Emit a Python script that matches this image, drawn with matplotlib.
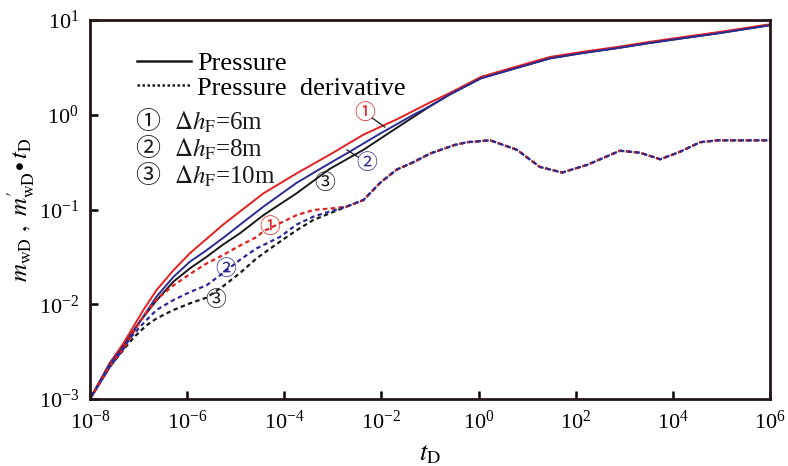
import numpy as np
import matplotlib
matplotlib.use("Agg")
import matplotlib.pyplot as plt
from matplotlib.lines import Line2D

plt.rcParams["font.family"] = ["Liberation Serif", "DejaVu Serif"]
plt.rcParams["mathtext.fontset"] = "stix"

# ---- data (log10 values) ----
# pressure, case 1 (dh=6m)
p1_logt = [-8, -7.59, -7.31, -7.11, -6.90, -6.63, -6.28, -5.94, -5.60, -5.26, -4.91,
           -4.43, -3.75, -3.06, -2.37, -1.69, -1.0, -0.59, 0.05, 0.79, 1.47, 2.15,
           2.85, 3.53, 4.21, 4.91, 6.0]
p1_logy = [-3, -2.62, -2.41, -2.24, -2.06, -1.85, -1.64, -1.46, -1.31, -1.16, -1.02,
           -0.83, -0.62, -0.42, -0.21, -0.05, 0.13, 0.23, 0.40, 0.51, 0.61, 0.665,
           0.715, 0.77, 0.82, 0.87, 0.955]
# pressure, case 2 (dh=8m)
p2_logt = [-8, -7.59, -7.31, -6.97, -6.63, -6.28, -5.94, -5.60, -5.26, -4.91, -4.43,
           -3.75, -3.06, -2.72, -2.03, -1.34, -1.0, -0.59, 0.05, 0.79, 1.47, 2.15,
           2.85, 3.53, 4.21, 4.91, 6.0]
p2_logy = [-3, -2.63, -2.45, -2.18, -1.92, -1.71, -1.55, -1.43, -1.30, -1.16, -0.97,
           -0.72, -0.51, -0.41, -0.20, 0.0, 0.09, 0.215, 0.385, 0.495, 0.595, 0.652,
           0.703, 0.758, 0.808, 0.858, 0.945]
# pressure, case 3 (dh=10m)
p3_logt = [-8, -7.59, -7.31, -6.97, -6.63, -6.28, -5.94, -5.60, -5.26, -4.91, -4.43,
           -3.75, -3.06, -2.37, -1.69, -1.0, -0.59, 0.05, 0.79, 1.47, 2.15,
           2.85, 3.53, 4.21, 4.91, 6.0]
p3_logy = [-3, -2.62, -2.43, -2.18, -1.96, -1.76, -1.62, -1.50, -1.37, -1.25, -1.06,
           -0.83, -0.57, -0.37, -0.14, 0.09, 0.215, 0.385, 0.495, 0.595, 0.652,
           0.703, 0.758, 0.808, 0.858, 0.945]

# derivative, early part for each case
d1_logt = [-8, -7.59, -7.31, -7.11, -6.90, -6.63, -6.28, -5.94, -5.60, -5.26, -4.91,
           -4.57, -4.43, -3.75, -3.40, -3.06]
d1_logy = [-3, -2.65, -2.47, -2.30, -2.13, -1.95, -1.80, -1.68, -1.57, -1.48, -1.38,
           -1.29, -1.23, -1.06, -1.005, -0.99]
d2_logt = [-8, -7.59, -7.31, -7.18, -6.90, -6.63, -6.28, -5.94, -5.60, -5.26, -4.91,
           -4.57, -4.09, -3.75, -3.40, -3.06]
d2_logy = [-3, -2.66, -2.47, -2.36, -2.20, -2.06, -1.955, -1.87, -1.80, -1.67, -1.53,
           -1.41, -1.29, -1.16, -1.075, -1.02]
d3_logt = [-8, -7.59, -7.31, -7.10, -6.83, -6.63, -6.28, -5.94, -5.60, -5.26, -4.91,
           -4.57, -4.09, -3.75, -3.40, -3.06]
d3_logy = [-3, -2.66, -2.48, -2.35, -2.22, -2.15, -2.06, -1.99, -1.93, -1.81, -1.67,
           -1.515, -1.34, -1.22, -1.11, -1.04]
# derivative, shared late part
dl_logt = [-2.72, -2.37, -2.03, -1.69, -1.34, -1.0, -0.5, -0.24, 0.24, 0.79,
           1.26, 1.72, 2.23, 2.91, 3.32, 3.74, 4.15, 4.56, 4.91, 6.0]
dl_logy = [-0.97, -0.90, -0.72, -0.58, -0.50, -0.41, -0.32, -0.29, -0.27, -0.37,
           -0.55, -0.61, -0.53, -0.38, -0.40, -0.47, -0.39, -0.29, -0.27, -0.27]

red = "#e5201e"
blue = "#2b2b96"
black = "#1a1a1a"

fig = plt.figure(figsize=(7.88, 4.66), dpi=100)
ax = fig.add_axes([90 / 788, 1 - 399 / 466, 680 / 788, 379 / 466])


def pw(v):
    return 10 ** np.asarray(v, dtype=float)


# pressure
ax.plot(pw(p3_logt), pw(p3_logy), color=black, lw=1.4)
ax.plot(pw(p1_logt), pw(p1_logy), color=red, lw=1.4)
ax.plot(pw(p2_logt), pw(p2_logy), color=blue, lw=1.4)

# derivative
dash = (2, 1.5)
ax.plot(pw(d3_logt + dl_logt), pw(d3_logy + dl_logy), color=black, lw=1.6,
        linestyle=(0, dash))
ax.plot(pw(d1_logt + dl_logt), pw(d1_logy + dl_logy), color=red, lw=1.6,
        linestyle=(0, dash))
ax.plot(pw(d2_logt + dl_logt), pw(d2_logy + dl_logy), color=blue, lw=1.6,
        linestyle=(1.75, dash))

ax.set_xscale("log")
ax.set_yscale("log")
ax.set_xlim(1e-8, 1e6)
ax.set_ylim(1e-3, 1e1)
ax.set_xticks([10.0 ** k for k in range(-8, 7, 2)])
ax.set_yticks([10.0 ** k for k in range(-3, 2)])
ax.minorticks_off()
ax.tick_params(direction="in", length=6, width=1.8, labelsize=16, pad=8,
               top=False, right=False)
for s in ax.spines.values():
    s.set_linewidth(2.0)
    s.set_color("#231815")

ax.set_xlabel(r"$t_{\mathrm{D}}$", fontsize=19, labelpad=7)
ax.set_ylabel(r"$m_{\mathrm{wD}}\ ,\ m^{\prime}_{\mathrm{wD}}\!\bullet t_{\mathrm{D}}$",
              fontsize=18, labelpad=1)

# legend
handles = [Line2D([], [], color=black, lw=1.8),
           Line2D([], [], color=black, lw=1.8, linestyle=(0, (1, 1)))]
ax.legend(handles, ["Pressure", "Pressure  derivative"], loc="upper left",
          bbox_to_anchor=(0.069, 0.917), frameon=False, fontsize=19,
          handlelength=2.05, handletextpad=0.23, labelspacing=0.05,
          borderpad=0, borderaxespad=0)

circ = ["Noto Sans CJK SC", "DejaVu Sans"]
rows_y = [0.731, 0.660, 0.588]
for y, num, txt in zip(rows_y, ["\u2460", "\u2461", "\u2462"],
                       [r"$\Delta h_{\mathrm{F}}$=6m", r"$\Delta h_{\mathrm{F}}$=8m",
                        r"$\Delta h_{\mathrm{F}}$=10m"]):
    ax.text(0.085, y, num, transform=ax.transAxes, ha="center", va="center",
            fontsize=18, family=circ, color=black)
    ax.text(0.123, y, txt, transform=ax.transAxes, ha="left", va="center",
            fontsize=18, color=black)

# curve labels
ax.text(10 ** -2.34, 10 ** 0.018, "\u2460", color=red, fontsize=15, family=circ,
        ha="center", va="center")
ax.plot([10 ** -2.19, 10 ** -1.93], [10 ** -0.034, 10 ** -0.13], color=black, lw=0.9)
ax.text(10 ** -2.30, 10 ** -0.51, "\u2461", color=blue, fontsize=15, family=circ,
        ha="center", va="center")
ax.plot([10 ** -2.48, 10 ** -2.71], [10 ** -0.446, 10 ** -0.372], color=black, lw=0.9)
ax.text(10 ** -3.16, 10 ** -0.72, "\u2462", color=black, fontsize=15, family=circ,
        ha="center", va="center")
ax.text(10 ** -4.29, 10 ** -1.185, "\u2460", color=red, fontsize=15, family=circ,
        ha="center", va="center")
ax.text(10 ** -5.2, 10 ** -1.63, "\u2461", color=blue, fontsize=15, family=circ,
        ha="center", va="center")
ax.text(10 ** -5.41, 10 ** -1.955, "\u2462", color=black, fontsize=15, family=circ,
        ha="center", va="center")

fig.savefig("out.png", dpi=100)
